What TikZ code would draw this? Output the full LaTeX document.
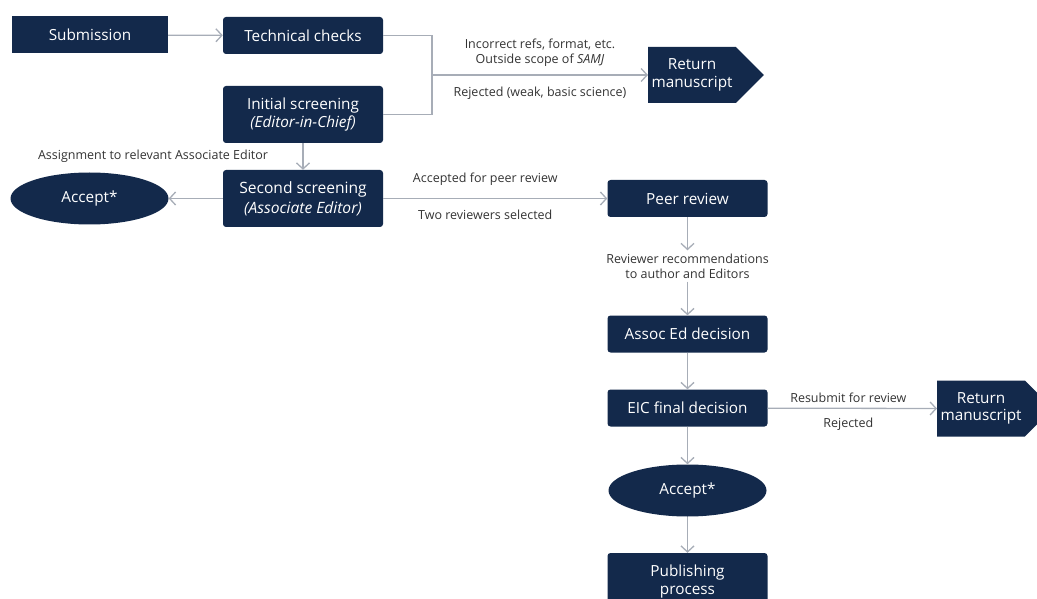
\documentclass[tikz,border=0pt]{standalone}
\usepackage{fontspec}
\setmainfont{Open Sans}
\usetikzlibrary{arrows.meta,positioning,shapes.geometric,shapes.symbols}

\definecolor{navy}{HTML}{13294B}
\definecolor{linegray}{HTML}{A7ADB7}
\definecolor{labelgray}{HTML}{333333}

\tikzset{
  box/.style={fill=navy, text=white, rounded corners=3pt, minimum width=160pt,
    minimum height=37pt, align=center, font=\fontsize{15.3}{17.5}\selectfont},
  oval/.style={ellipse, fill=navy, text=white, inner sep=0pt, minimum width=158pt,
    minimum height=52pt, font=\fontsize{15.3}{17.5}\selectfont},
  retbox/.style={signal, signal to=east, signal pointer angle=90, fill=navy, text=white,
    minimum width=115pt, minimum height=56pt, align=center, font=\fontsize{15.3}{17.5}\selectfont},
  lbl/.style={text=labelgray, align=center, font=\fontsize{12.5}{14.8}\selectfont},
  conn/.style={draw=linegray, line width=1.3pt, -{Straight Barb[length=6pt,width=13pt]}},
  link/.style={draw=linegray, line width=1.3pt}
}

\begin{document}
\begin{tikzpicture}[x=1pt,y=-1pt]
\useasboundingbox (0,0) rectangle (1037,599);

% left column
\node[box, rounded corners=0pt, minimum width=156pt] (sub) at (90,35) {Submission};
\node[box] (tech) at (303,35.5) {Technical checks};
\node[box, minimum height=57pt] (init) at (303,114.5) {Initial screening\\\textit{(Editor-in-Chief)}};
\node[box, minimum height=57pt, font=\fontsize{15.6}{20}\selectfont] (second) at (303,198.5) {Second screening\\\textit{(Associate Editor)}};
\node[oval] (acc1) at (89.5,198.5) {Accept*};
\node[retbox, anchor=west] (ret1) at (648,75) {Return\\manuscript};
\coordinate (join) at (432,75);

% right column
\node[box] (peer) at (687.5,198.5) {Peer review};
\node[lbl] (rev) at (687.5,266) {Reviewer recommendations\\to author and Editors};
\node[box] (assoc) at (687.5,334) {Assoc Ed decision};
\node[box] (eic) at (687.5,408) {EIC final decision};
\node[retbox, anchor=west] (ret2) at (937,408.5) {Return\\manuscript};
\node[oval] (acc2) at (687.5,490.5) {Accept*};
\node[box, minimum height=57pt] (pub) at (687.5,581.5) {Publishing\\process};

% connectors
\draw[conn] (sub) -- (tech);
\draw[link] (tech.east) -| (join) |- (init.east);
\draw[conn] (join) -- node[lbl, above=5pt] {Incorrect refs, format, etc.\\Outside scope of \textit{SAMJ}}
  node[lbl, below=8pt] {Rejected (weak, basic science)} (ret1.west);
\draw[conn] (init) -- node[lbl, left=31pt] {Assignment to relevant Associate Editor} (second);
\draw[conn] (second) -- (acc1);
\draw[conn] (second) -- node[lbl, above=9pt, xshift=-10pt] {Accepted for peer review}
  node[lbl, below=8pt, xshift=-10pt] {Two reviewers selected} (peer);
\draw[conn] (peer) -- (rev);
\draw[conn] (rev) -- (assoc);
\draw[conn] (assoc) -- (eic);
\draw[conn] (eic) -- node[lbl, above=2pt, xshift=-4pt] {Resubmit for review}
  node[lbl, below=6pt, xshift=-4pt] {Rejected} (ret2.west);
\draw[conn] (eic) -- (acc2);
\draw[conn] (acc2) -- (pub);
\end{tikzpicture}
\end{document}
